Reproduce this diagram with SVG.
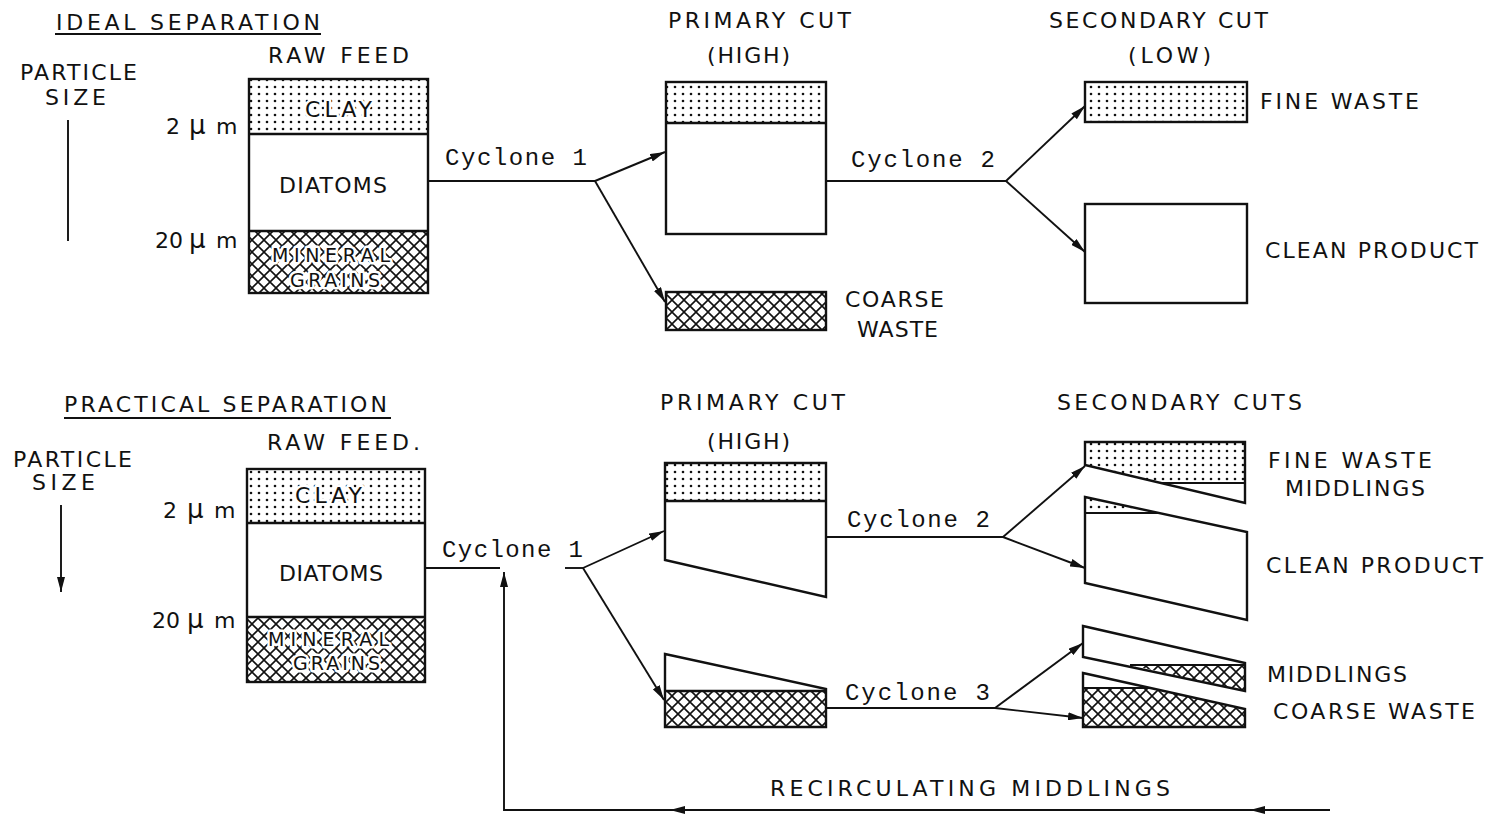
<svg xmlns="http://www.w3.org/2000/svg" width="1491" height="814" viewBox="0 0 1491 814">
<style>
.t{font-family:"DejaVu Sans","Liberation Sans",Arial,sans-serif;font-size:22px;fill:#111}
.s{font-size:19px}
.u{font-size:26px}
.m{font-family:"Liberation Mono","Courier New",monospace;font-size:24px;fill:#111}
.h{paint-order:stroke;stroke:#fff;stroke-width:5px;stroke-linejoin:round}
.o{fill:none;stroke:#111;stroke-width:2.4;stroke-linejoin:miter}
.c{fill:none;stroke:#111;stroke-width:1.9}
.a{marker-end:url(#arr)}
</style>
<defs>
<pattern id="dots" width="8" height="7" patternUnits="userSpaceOnUse">
<rect width="8" height="7" fill="#fff"/>
<circle cx="3" cy="3" r="1.3" fill="#111"/>
</pattern>
<pattern id="hatch" width="12" height="12" patternUnits="userSpaceOnUse">
<rect width="12" height="12" fill="#fff"/>
<path d="M0,0 L12,12 M12,0 L0,12" stroke="#111" stroke-width="1.6"/>
</pattern>
<marker id="arr" viewBox="0 0 15 8" refX="15" refY="4" markerWidth="15" markerHeight="8" markerUnits="userSpaceOnUse" orient="auto">
<path d="M0,0 L15,4 L0,8 z" fill="#111"/>
</marker>
</defs>
<rect width="1491" height="814" fill="#fff"/>

<!-- ===== IDEAL SEPARATION ===== -->
<g id="title-ideal">
<text class="t" x="56" y="30" textLength="264" lengthAdjust="spacing">IDEAL SEPARATION</text>
<line class="c" x1="55" y1="34" x2="321" y2="34"/>
</g>
<g id="axis-ideal">
<text class="t" x="20" y="80" textLength="117" lengthAdjust="spacing">PARTICLE</text>
<text class="t" x="45" y="105" textLength="61" lengthAdjust="spacing">SIZE</text>
<line class="c" x1="68" y1="120" x2="68" y2="241"/>
</g>
<g id="rawfeed-ideal">
<text class="t" x="268" y="63" textLength="141" lengthAdjust="spacing">RAW FEED</text>
<text class="t" x="166" y="134">2<tspan class="u" x="189">μ</tspan><tspan x="216">m</tspan></text>
<text class="t" x="155" y="248">20<tspan class="u" x="189">μ</tspan><tspan x="216">m</tspan></text>
<rect x="249" y="79" width="179" height="55" fill="url(#dots)"/>
<rect x="249" y="231" width="179" height="62" fill="url(#hatch)"/>
<rect class="o" x="249" y="79" width="179" height="214"/>
<line class="o" x1="249" y1="134" x2="428" y2="134"/>
<line class="o" x1="249" y1="231" x2="428" y2="231"/>
<text class="t h" x="305" y="117" textLength="67" lengthAdjust="spacing">CLAY</text>
<text class="t" x="279" y="193" textLength="108" lengthAdjust="spacing">DIATOMS</text>
<text class="t s h" x="272" y="262" textLength="118" lengthAdjust="spacing">MINERAL</text>
<text class="t s h" x="290" y="287" textLength="90" lengthAdjust="spacing">GRAINS</text>
</g>
<g id="primary-ideal">
<text class="t" x="668" y="28" textLength="183" lengthAdjust="spacing">PRIMARY CUT</text>
<text class="t" x="707" y="63" textLength="83" lengthAdjust="spacing">(HIGH)</text>
<rect x="666" y="82" width="160" height="41" fill="url(#dots)"/>
<rect class="o" x="666" y="82" width="160" height="152"/>
<line class="o" x1="666" y1="123" x2="826" y2="123"/>
</g>
<g id="coarse-ideal">
<rect x="666" y="292" width="160" height="38" fill="url(#hatch)"/>
<rect class="o" x="666" y="292" width="160" height="38"/>
<text class="t" x="845" y="307" textLength="99" lengthAdjust="spacing">COARSE</text>
<text class="t" x="857" y="337" textLength="81" lengthAdjust="spacing">WASTE</text>
</g>
<g id="secondary-title-ideal">
<text class="t" x="1049" y="28" textLength="219" lengthAdjust="spacing">SECONDARY CUT</text>
<text class="t" x="1128" y="63" textLength="83" lengthAdjust="spacing">(LOW)</text>
</g>
<g id="fine-ideal">
<rect x="1085" y="82" width="162" height="40" fill="url(#dots)"/>
<rect class="o" x="1085" y="82" width="162" height="40"/>
<text class="t" x="1260" y="109" textLength="159" lengthAdjust="spacing">FINE WASTE</text>
</g>
<g id="clean-ideal">
<rect class="o" x="1085" y="204" width="162" height="99" fill="#fff"/>
<text class="t" x="1265" y="258" textLength="213" lengthAdjust="spacing">CLEAN PRODUCT</text>
</g>

<!-- ===== PRACTICAL SEPARATION ===== -->
<g id="title-practical">
<text class="t" x="64" y="412" textLength="323" lengthAdjust="spacing">PRACTICAL SEPARATION</text>
<line class="c" x1="64" y1="418" x2="391" y2="418"/>
</g>
<g id="axis-practical">
<text class="t" x="13" y="467" textLength="119" lengthAdjust="spacing">PARTICLE</text>
<text class="t" x="32" y="490" textLength="63" lengthAdjust="spacing">SIZE</text>
<line class="c a" x1="61" y1="505" x2="61" y2="592"/>
</g>
<g id="rawfeed-practical">
<text class="t" x="267" y="450" textLength="153" lengthAdjust="spacing">RAW FEED.</text>
<text class="t" x="163" y="518">2<tspan class="u" x="187">μ</tspan><tspan x="214">m</tspan></text>
<text class="t" x="152" y="628">20<tspan class="u" x="187">μ</tspan><tspan x="214">m</tspan></text>
<rect x="247" y="469" width="178" height="54" fill="url(#dots)"/>
<rect x="247" y="617" width="178" height="65" fill="url(#hatch)"/>
<rect class="o" x="247" y="469" width="178" height="213"/>
<line class="o" x1="247" y1="523" x2="425" y2="523"/>
<line class="o" x1="247" y1="617" x2="425" y2="617"/>
<text class="t h" x="295" y="503" textLength="67" lengthAdjust="spacing">CLAY</text>
<text class="t" x="279" y="581" textLength="104" lengthAdjust="spacing">DIATOMS</text>
<text class="t s h" x="268" y="646" textLength="121" lengthAdjust="spacing">MINERAL</text>
<text class="t s h" x="293" y="670" textLength="87" lengthAdjust="spacing">GRAINS</text>
</g>
<g id="primary-practical">
<text class="t" x="660" y="410" textLength="185" lengthAdjust="spacing">PRIMARY CUT</text>
<text class="t" x="707" y="449" textLength="83" lengthAdjust="spacing">(HIGH)</text>
<rect x="665" y="463" width="161" height="38" fill="url(#dots)"/>
<polygon class="o" points="665,463 826,463 826,597 665,560"/>
<line class="o" x1="665" y1="501" x2="826" y2="501"/>
</g>
<g id="primary-coarse-practical">
<rect x="665" y="691" width="161" height="36" fill="url(#hatch)"/>
<polygon class="o" points="665,654 826,689 826,727 665,727"/>
<line class="o" x1="665" y1="691" x2="826" y2="691"/>
</g>
<g id="secondary-title-practical">
<text class="t" x="1057" y="410" textLength="245" lengthAdjust="spacing">SECONDARY CUTS</text>
</g>
<g id="fine-middlings-practical">
<polygon points="1085,442 1245,442 1245,483 1161,483 1085,465" fill="url(#dots)"/>
<polygon class="o" points="1085,442 1245,442 1245,503 1085,465"/>
<line class="c" x1="1161" y1="483" x2="1245" y2="483"/>
<text class="t" x="1268" y="468" textLength="164" lengthAdjust="spacing">FINE WASTE</text>
<text class="t" x="1285" y="496" textLength="140" lengthAdjust="spacing">MIDDLINGS</text>
</g>
<g id="clean-practical">
<polygon points="1085,497 1159,513 1085,513" fill="url(#dots)"/>
<polygon class="o" points="1085,497 1247,532 1247,620 1085,583"/>
<line class="c" x1="1085" y1="513" x2="1159" y2="513"/>
<text class="t" x="1266" y="573" textLength="217" lengthAdjust="spacing">CLEAN PRODUCT</text>
</g>
<g id="middlings-practical">
<polygon points="1130,665 1245,665 1245,691" fill="url(#hatch)"/>
<polygon class="o" points="1083,626 1245,663 1245,691 1083,657"/>
<line class="c" x1="1130" y1="665" x2="1245" y2="665"/>
<text class="t" x="1267" y="682" textLength="140" lengthAdjust="spacing">MIDDLINGS</text>
</g>
<g id="coarse-practical">
<polygon points="1083,688 1150,688 1245,709 1245,727 1083,727" fill="url(#hatch)"/>
<polygon class="o" points="1083,673 1245,709 1245,727 1083,727"/>
<line class="c" x1="1083" y1="688" x2="1150" y2="688"/>
<text class="t" x="1273" y="719" textLength="202" lengthAdjust="spacing">COARSE WASTE</text>
</g>

<!-- ===== CONNECTORS ===== -->
<g id="connectors">
<text class="m" x="445" y="165" textLength="142" lengthAdjust="spacing">Cyclone 1</text>
<line class="c" x1="428" y1="181" x2="595" y2="181"/>
<line class="c a" x1="595" y1="181" x2="665" y2="152"/>
<line class="c a" x1="595" y1="181" x2="665" y2="302"/>
<text class="m" x="851" y="167" textLength="144" lengthAdjust="spacing">Cyclone 2</text>
<line class="c" x1="826" y1="181" x2="1006" y2="181"/>
<line class="c a" x1="1006" y1="181" x2="1085" y2="106"/>
<line class="c a" x1="1006" y1="181" x2="1085" y2="252"/>

<text class="m" x="442" y="557" textLength="141" lengthAdjust="spacing">Cyclone 1</text>
<line class="c" x1="425" y1="568" x2="500" y2="568"/>
<line class="c" x1="565" y1="568" x2="583" y2="568"/>
<line class="c a" x1="583" y1="568" x2="664" y2="531"/>
<line class="c a" x1="583" y1="568" x2="664" y2="700"/>
<text class="m" x="847" y="527" textLength="143" lengthAdjust="spacing">Cyclone 2</text>
<line class="c" x1="826" y1="537" x2="1003" y2="537"/>
<line class="c a" x1="1003" y1="537" x2="1085" y2="466"/>
<line class="c a" x1="1003" y1="537" x2="1085" y2="568"/>
<text class="m" x="845" y="700" textLength="145" lengthAdjust="spacing">Cyclone 3</text>
<line class="c" x1="826" y1="708" x2="995" y2="708"/>
<line class="c a" x1="995" y1="708" x2="1083" y2="643"/>
<line class="c a" x1="995" y1="708" x2="1083" y2="718"/>

<text class="t" x="770" y="796" textLength="400" lengthAdjust="spacing">RECIRCULATING   MIDDLINGS</text>
<line class="c a" x1="1330" y1="810" x2="1250" y2="810"/>
<line class="c a" x1="1250" y1="810" x2="670" y2="810"/>
<polyline class="c a" points="670,810 504,810 504,572"/>
</g>
</svg>
